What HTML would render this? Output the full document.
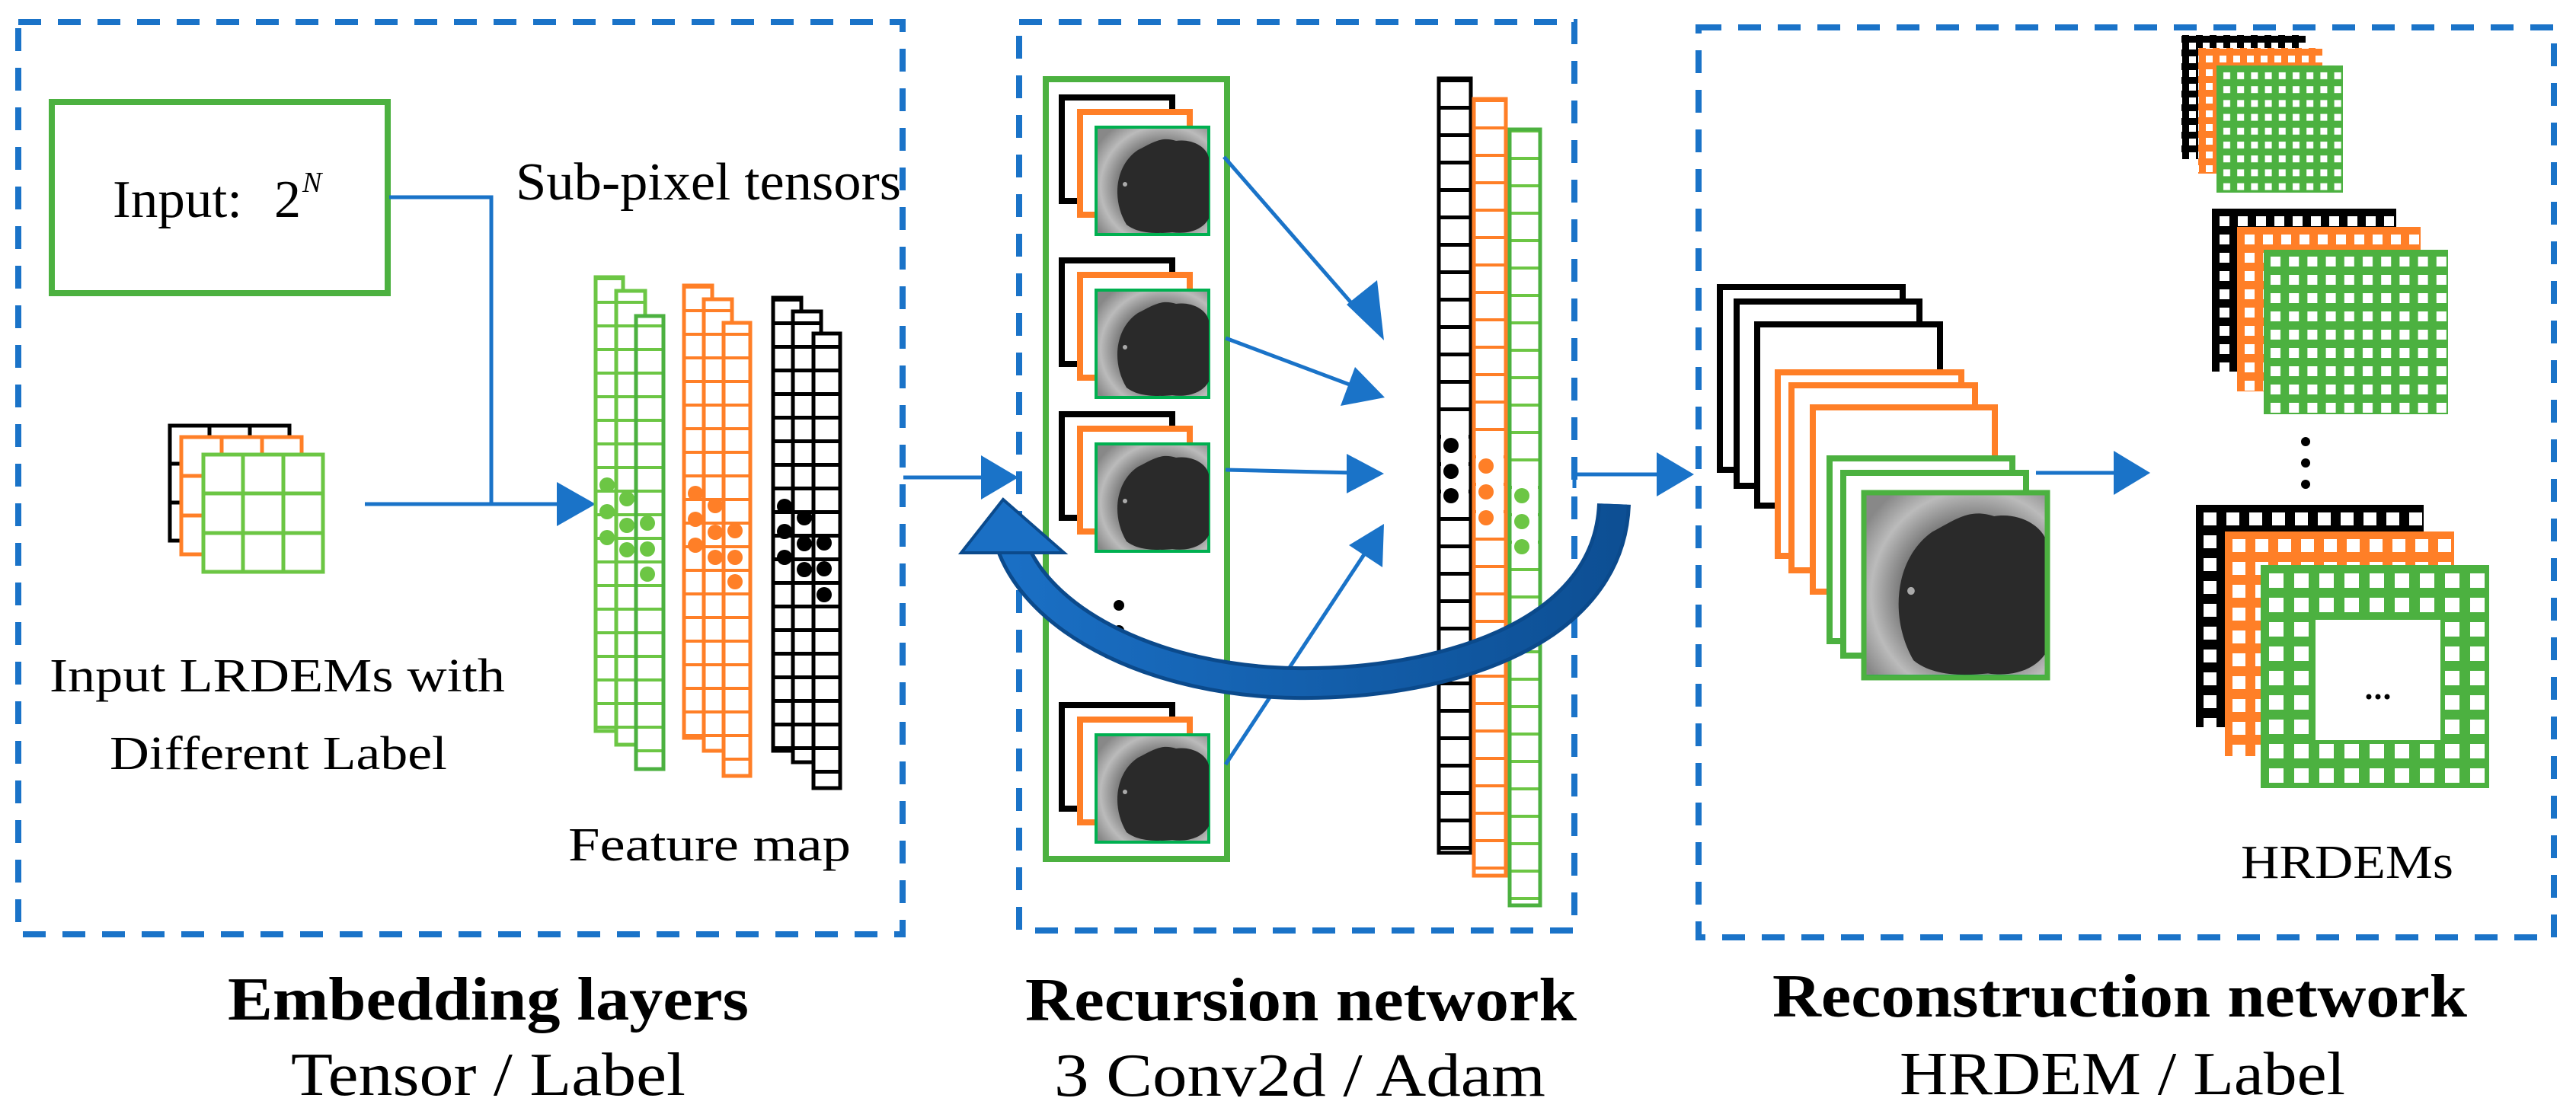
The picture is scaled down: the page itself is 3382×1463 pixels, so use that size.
<!DOCTYPE html>
<html><head><meta charset="utf-8"><style>html,body{margin:0;padding:0;background:#fff}svg{display:block}</style></head><body>
<svg xmlns="http://www.w3.org/2000/svg" width="3382" height="1463" viewBox="0 0 3382 1463" font-family="Liberation Serif, serif">
<defs>
<pattern id="hg" width="40" height="31" patternUnits="userSpaceOnUse" y="364"><rect width="40" height="4" fill="#6cc644"/></pattern>
<pattern id="ho" width="40" height="31" patternUnits="userSpaceOnUse" y="375"><rect width="40" height="4" fill="#ff7f27"/></pattern>
<pattern id="hk" width="40" height="31" patternUnits="userSpaceOnUse" y="391"><rect width="40" height="5" fill="#000"/></pattern>
<pattern id="tk" width="50" height="36" patternUnits="userSpaceOnUse" y="103"><rect width="50" height="5" fill="#000"/></pattern>
<pattern id="to" width="50" height="36" patternUnits="userSpaceOnUse" y="130"><rect width="50" height="4" fill="#ff7f27"/></pattern>
<pattern id="tg" width="50" height="36" patternUnits="userSpaceOnUse" y="170"><rect width="50" height="4" fill="#6cc644"/></pattern>
<radialGradient id="dem" cx="0.6" cy="0.55" r="0.7"><stop offset="0.5" stop-color="#666"/><stop offset="0.8" stop-color="#bbb"/><stop offset="1" stop-color="#888"/></radialGradient>
<linearGradient id="arc" x1="0" x2="1"><stop offset="0" stop-color="#1a6fc4"/><stop offset="1" stop-color="#0d4f94"/></linearGradient>
<pattern id="p1" x="2870" y="52" width="18" height="18" patternUnits="userSpaceOnUse"><rect x="4" y="4" width="9" height="9" fill="#fff"/></pattern>
<pattern id="p2" x="2892" y="69" width="18" height="18" patternUnits="userSpaceOnUse"><rect x="4" y="4" width="9" height="9" fill="#fff"/></pattern>
<pattern id="p3" x="2914" y="90" width="18.2" height="18.2" patternUnits="userSpaceOnUse"><rect x="5" y="5" width="9" height="9" fill="#fff"/></pattern>
<pattern id="p4" x="2908" y="278" width="24" height="24" patternUnits="userSpaceOnUse"><rect x="6" y="6" width="13" height="13" fill="#fff"/></pattern>
<pattern id="p5" x="2941" y="302" width="24" height="24" patternUnits="userSpaceOnUse"><rect x="6" y="6" width="13" height="13" fill="#fff"/></pattern>
<pattern id="p6" x="2974" y="330" width="24.2" height="24" patternUnits="userSpaceOnUse"><rect x="7" y="7" width="13" height="13" fill="#fff"/></pattern>
<pattern id="p7" x="2885" y="665" width="30" height="30" patternUnits="userSpaceOnUse"><rect x="8" y="8" width="17" height="17" fill="#fff"/></pattern>
<pattern id="p8" x="2923" y="700" width="30" height="30" patternUnits="userSpaceOnUse"><rect x="8" y="8" width="17" height="17" fill="#fff"/></pattern>
<pattern id="p9" x="2970" y="744" width="33" height="32" patternUnits="userSpaceOnUse"><rect x="9" y="9" width="19" height="19" fill="#fff"/></pattern>
<g id="demimg">
<rect x="0" y="0" width="148" height="141" fill="url(#dem)" stroke="#00b050" stroke-width="4"/>
<path d="M40 128 C20 95 25 50 55 30 C75 20 85 12 105 18 C125 15 145 25 148 40 L148 120 C140 135 120 141 100 138 C80 140 55 140 40 128Z" fill="#2a2a2a"/>
<circle cx="38" cy="75" r="3" fill="#aaa"/>
</g>
<g id="stk">
<rect x="1394" y="0" width="145" height="136" fill="#fff" stroke="#000" stroke-width="8"/>
<rect x="1418" y="19" width="144" height="135" fill="#fff" stroke="#ff7f27" stroke-width="8"/>
<use href="#demimg" x="1439" y="39"/>
</g>
</defs>

<g fill="none" stroke="#1a73c8" stroke-width="8" stroke-dasharray="30 22">
<rect x="24" y="29" width="1161" height="1198"/>
<rect x="1338" y="29" width="729" height="1193"/>
<rect x="2230" y="36" width="1123" height="1195"/>
</g>

<!-- Left panel -->
<rect x="68" y="134" width="441" height="251" fill="none" stroke="#4cb140" stroke-width="8"/>
<text x="148" y="285" font-size="70" textLength="170" lengthAdjust="spacingAndGlyphs">Input:</text>
<text x="360" y="285" font-size="70">2</text>
<text x="397" y="252" font-size="38" font-style="italic">N</text>
<text x="677" y="262" font-size="70" textLength="506" lengthAdjust="spacingAndGlyphs">Sub-pixel tensors</text>
<g fill="none" stroke="#1a73c8" stroke-width="5">
<polyline points="511,259 645,259 645,662"/>
<line x1="479" y1="662" x2="735" y2="662"/>
</g>
<polygon points="782,662 731,633 731,691" fill="#1a73c8"/>

<!-- LR grid -->
<g fill="#fff" stroke-width="5">
<rect x="223" y="559" width="157" height="151" stroke="#000"/>
<path d="M275 559V710M328 559V710M223 609H380M223 660H380" stroke="#000"/>
<rect x="238" y="574" width="158" height="154" stroke="#ff7f27"/>
<path d="M291 574V728M344 574V728M238 625H396M238 677H396" stroke="#ff7f27"/>
<rect x="267" y="597" width="157" height="154" fill="#fff" stroke="#6cc644"/>
<path d="M319 597V751M372 597V751M267 648H424M267 700H424" stroke="#6cc644"/>
</g>
<text x="65" y="908" font-size="62" textLength="598" lengthAdjust="spacingAndGlyphs">Input LRDEMs with</text>
<text x="144" y="1010" font-size="62" textLength="443" lengthAdjust="spacingAndGlyphs">Different Label</text>
<text x="746" y="1130" font-size="62" textLength="371" lengthAdjust="spacingAndGlyphs">Feature map</text>

<!-- feature columns -->
<g stroke-width="5">
<rect x="782" y="364" width="36" height="596" fill="url(#hg)" stroke="#6cc644"/>
<rect x="809" y="382" width="38" height="596" fill="#fff" stroke="#6cc644"/><rect x="809" y="382" width="38" height="596" fill="url(#hg)" stroke="#6cc644"/>
<rect x="835" y="415" width="36" height="595" fill="#fff" stroke="#4cb140"/><rect x="835" y="415" width="36" height="595" fill="url(#hg)" stroke="#4cb140"/>
<rect x="898" y="375" width="37" height="594" fill="url(#ho)" stroke="#ff7f27"/>
<rect x="924" y="393" width="37" height="593" fill="#fff" stroke="#ff7f27"/><rect x="924" y="393" width="37" height="593" fill="url(#ho)" stroke="#ff7f27"/>
<rect x="950" y="424" width="35" height="595" fill="#fff" stroke="#ff7f27"/><rect x="950" y="424" width="35" height="595" fill="url(#ho)" stroke="#ff7f27"/>
<rect x="1015" y="391" width="37" height="595" fill="url(#hk)" stroke="#000"/>
<rect x="1041" y="409" width="37" height="592" fill="#fff" stroke="#000"/><rect x="1041" y="409" width="37" height="592" fill="url(#hk)" stroke="#000"/>
<rect x="1068" y="438" width="35" height="597" fill="#fff" stroke="#000"/><rect x="1068" y="438" width="35" height="597" fill="url(#hk)" stroke="#000"/>
</g>
<g fill="#6cc644"><circle cx="797" cy="637" r="10"/><circle cx="797" cy="672" r="10"/><circle cx="797" cy="706" r="10"/><circle cx="823" cy="655" r="10"/><circle cx="823" cy="690" r="10"/><circle cx="823" cy="722" r="10"/><circle cx="850" cy="687" r="10"/><circle cx="850" cy="721" r="10"/><circle cx="850" cy="754" r="10"/></g>
<g fill="#ff7f27"><circle cx="913" cy="648" r="10"/><circle cx="913" cy="682" r="10"/><circle cx="913" cy="716" r="10"/><circle cx="939" cy="664" r="10"/><circle cx="939" cy="699" r="10"/><circle cx="939" cy="732" r="10"/><circle cx="965" cy="697" r="10"/><circle cx="965" cy="732" r="10"/><circle cx="965" cy="764" r="10"/></g>
<g fill="#000"><circle cx="1030" cy="665" r="10"/><circle cx="1030" cy="698" r="10"/><circle cx="1030" cy="732" r="10"/><circle cx="1056" cy="680" r="10"/><circle cx="1056" cy="714" r="10"/><circle cx="1056" cy="748" r="10"/><circle cx="1082" cy="713" r="10"/><circle cx="1082" cy="747" r="10"/><circle cx="1082" cy="781" r="10"/></g>

<!-- Middle panel -->
<line x1="1186" y1="627" x2="1290" y2="627" stroke="#1a73c8" stroke-width="5"/>
<polygon points="1337,627 1288,598 1288,656" fill="#1a73c8"/>
<rect x="1373" y="104" width="238" height="1024" fill="none" stroke="#4cb140" stroke-width="8"/>
<use href="#stk" y="128"/>
<use href="#stk" y="342"/>
<use href="#stk" y="544"/>
<use href="#stk" y="926"/>
<g fill="#000"><circle cx="1469" cy="795" r="7"/><circle cx="1469" cy="828" r="7"/><circle cx="1469" cy="862" r="7"/></g>

<g stroke-width="5">
<rect x="1889" y="103" width="42" height="1017" fill="url(#tk)" stroke="#000"/>
<rect x="1935" y="130" width="42" height="1020" fill="url(#to)" stroke="#ff7f27"/>
<rect x="1982" y="170" width="40" height="1019" fill="url(#tg)" stroke="#4cb140"/>
</g>
<rect x="1892" y="570" width="36" height="100" fill="#fff"/><rect x="1938" y="595" width="36" height="100" fill="#fff"/><rect x="1985" y="635" width="34" height="100" fill="#fff"/>
<g fill="#000"><circle cx="1905" cy="585" r="10"/><circle cx="1905" cy="619" r="10"/><circle cx="1905" cy="651" r="10"/></g>
<g fill="#ff7f27"><circle cx="1951" cy="612" r="10"/><circle cx="1951" cy="646" r="10"/><circle cx="1951" cy="680" r="10"/></g>
<g fill="#6cc644"><circle cx="1998" cy="651" r="10"/><circle cx="1998" cy="685" r="10"/><circle cx="1998" cy="718" r="10"/></g>

<g stroke="#1a73c8" stroke-width="5">
<line x1="1607" y1="206" x2="1790" y2="416"/>
<line x1="1609" y1="444" x2="1785" y2="510"/>
<line x1="1609" y1="617" x2="1780" y2="621"/>
<line x1="1609" y1="1004" x2="1795" y2="722"/>
</g>
<g fill="#1a73c8">
<polygon points="1817,447 1768,400 1808,368"/>
<polygon points="1818,522 1760,533 1779,482"/>
<polygon points="1817,622 1768,648 1768,596"/>
<polygon points="1817,688 1815,745 1771,716"/>
</g>

<!-- curved arrow -->
<path d="M2119 662 C2112 840 1880 900 1700 897 C1520 894 1370 820 1330 720" fill="none" stroke="#0b4a8c" stroke-width="44"/>
<path d="M2119 662 C2112 840 1880 900 1700 897 C1520 894 1370 820 1330 720" fill="none" stroke="url(#arc)" stroke-width="34"/>
<polygon points="1317,656 1262,726 1397,726" fill="#1a6fc4" stroke="#0b4a8c" stroke-width="4"/>

<!-- Right panel -->
<line x1="2067" y1="623" x2="2180" y2="623" stroke="#1a73c8" stroke-width="5"/>
<line x1="2067" y1="605" x2="2067" y2="641" stroke="#1a73c8" stroke-width="5"/>
<polygon points="2224,623 2175,594 2175,652" fill="#1a73c8"/>
<g fill="#fff" stroke-width="8">
<rect x="2258" y="377" width="240" height="240" stroke="#000"/>
<rect x="2280" y="396" width="240" height="242" stroke="#000"/>
<rect x="2307" y="426" width="240" height="238" stroke="#000"/>
<rect x="2334" y="489" width="241" height="241" stroke="#ff7f27"/>
<rect x="2352" y="506" width="241" height="243" stroke="#ff7f27"/>
<rect x="2380" y="535" width="239" height="242" stroke="#ff7f27"/>
<rect x="2402" y="602" width="240" height="240" stroke="#4cb140"/>
<rect x="2420" y="621" width="240" height="240" stroke="#4cb140"/>
</g>
<g transform="translate(2447,647) scale(1.63,1.72)"><use href="#demimg"/></g>
<rect x="2447" y="647" width="241" height="243" fill="none" stroke="#4cb140" stroke-width="7"/>
<line x1="2673" y1="621" x2="2778" y2="621" stroke="#1a73c8" stroke-width="5"/>
<polygon points="2823,621 2775,592 2775,650" fill="#1a73c8"/>

<rect x="2864" y="46" width="163" height="163" fill="#000"/><rect x="2864" y="46" width="163" height="163" fill="url(#p1)"/>
<rect x="2886" y="63" width="163" height="165" fill="#ff7f27"/><rect x="2886" y="63" width="163" height="165" fill="url(#p2)"/>
<rect x="2910" y="86" width="166" height="167" fill="#4cb140"/><rect x="2910" y="86" width="166" height="167" fill="url(#p3)"/>

<rect x="2904" y="274" width="242" height="214" fill="#000"/><rect x="2904" y="274" width="242" height="214" fill="url(#p4)"/>
<rect x="2937" y="298" width="241" height="216" fill="#ff7f27"/><rect x="2937" y="298" width="241" height="216" fill="url(#p5)"/>
<rect x="2972" y="328" width="242" height="216" fill="#4cb140"/><rect x="2972" y="328" width="242" height="216" fill="url(#p6)"/>

<g fill="#000"><circle cx="3027" cy="580" r="6"/><circle cx="3027" cy="608" r="6"/><circle cx="3027" cy="636" r="6"/></g>

<rect x="2883" y="663" width="299" height="292" fill="#000"/><rect x="2883" y="663" width="299" height="292" fill="url(#p7)"/>
<rect x="2921" y="698" width="301" height="295" fill="#ff7f27"/><rect x="2921" y="698" width="301" height="295" fill="url(#p8)"/>
<rect x="2968" y="742" width="300" height="293" fill="#4cb140"/><rect x="2968" y="742" width="300" height="293" fill="url(#p9)"/>
<rect x="3040" y="814" width="164" height="158" fill="#fff"/>
<g fill="#000"><circle cx="3110" cy="915" r="3.5"/><circle cx="3122" cy="915" r="3.5"/><circle cx="3134" cy="915" r="3.5"/></g>
<text x="2942" y="1153" font-size="62" textLength="279" lengthAdjust="spacingAndGlyphs">HRDEMs</text>

<!-- captions -->
<g font-size="80">
<text x="299" y="1339" font-weight="bold" textLength="684" lengthAdjust="spacingAndGlyphs">Embedding layers</text>
<text x="382" y="1438" textLength="518" lengthAdjust="spacingAndGlyphs">Tensor / Label</text>
<text x="1346" y="1340" font-weight="bold" textLength="724" lengthAdjust="spacingAndGlyphs">Recursion network</text>
<text x="1384" y="1439" textLength="645" lengthAdjust="spacingAndGlyphs">3 Conv2d / Adam</text>
<text x="2327" y="1335" font-weight="bold" textLength="912" lengthAdjust="spacingAndGlyphs">Reconstruction network</text>
<text x="2494" y="1437" textLength="585" lengthAdjust="spacingAndGlyphs">HRDEM / Label</text>
</g>
</svg>
</body></html>
